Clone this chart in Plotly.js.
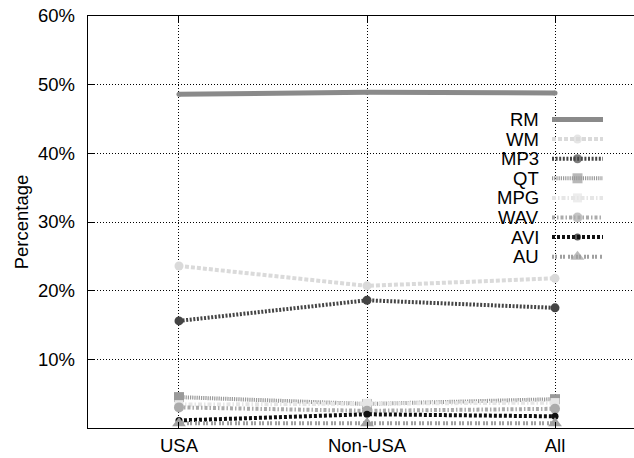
<!DOCTYPE html>
<html>
<head>
<meta charset="utf-8">
<script src="https://cdn.plot.ly/plotly-3.0.1.min.js"></script>
<style>
  html, body { margin: 0; padding: 0; overflow: hidden; background: #fff; }
  #chart { width: 660px; height: 458px; }
</style>
</head>
<body>
<div id="chart"></div>
<script>
// Regions on the x axis
const regions = ['USA', 'Non-USA', 'All'];

// Share of each media format per region (percent)
const rm  = [48.6, 48.9, 48.8];
const wm  = [23.6, 20.7, 21.8];
const mp3 = [15.6, 18.6, 17.5];
const qt  = [4.5, 3.5, 4.2];
const mpg = [3.4, 3.6, 3.7];
const wav = [3.0, 2.5, 2.8];
const avi = [1.1, 2.0, 1.7];
const au  = [0.7, 0.7, 0.7];

const formatNames = ['RM', 'WM', 'MP3', 'QT', 'MPG', 'WAV', 'AVI', 'AU'];
const yTicks = [10, 20, 30, 40, 50, 60];
const yTickText = yTicks.map(v => v + '%');

// Line and marker style per format
const styles = [
  { color: '#8a8a8a', width: 5, dash: 'solid',                 symbol: 'circle',        size: 5 },
  { color: '#dadada', width: 4, dash: '4px,2px',               symbol: 'circle',        size: 9 },
  { color: '#454545', width: 4, dash: '2px,1.6px',             symbol: 'circle',        size: 9 },
  { color: '#9a9a9a', width: 4, dash: '1.2px,1px',             symbol: 'square',        size: 10 },
  { color: '#e6e6e6', width: 4, dash: '4px,2px,1.5px,2px',     symbol: 'square',        size: 9 },
  { color: '#ababab', width: 4, dash: '3px,2px,1.5px,2px',     symbol: 'circle',        size: 10 },
  { color: '#111111', width: 4, dash: '3px,2px',               symbol: 'circle',        size: 7 },
  { color: '#a0a0a0', width: 4, dash: '2px,1px,2px,3px',       symbol: 'triangle-up',   size: 12 }
];

const series = [rm, wm, mp3, qt, mpg, wav, avi, au];

const traces = series.map((vals, i) => ({
  type: 'scatter',
  mode: 'lines+markers',
  name: formatNames[i],
  x: regions,
  y: vals,
  xaxis: 'x',
  yaxis: 'y',
  cliponaxis: false,
  line: { color: styles[i].color, width: styles[i].width, dash: styles[i].dash },
  marker: { color: styles[i].color, symbol: styles[i].symbol, size: styles[i].size, line: { width: 0 } },
  showlegend: false,
  hoverinfo: 'skip'
}));

// Key drawn on an overlay axis measured in pixels of the plot area
const plotLeft = 88, plotRight = 646, plotTop = 16, plotBottom = 428;
const keyTextRight = 541, keyLineStart = 552, keyLineEnd = 603;
const keyTop = 119.5, keyStep = 19.6;

const font = { family: 'Liberation Sans, Arial, sans-serif', size: 18.5, color: '#000' };

const annotations = [];
formatNames.forEach((name, i) => {
  const yRow = keyTop + i * keyStep;
  const mid = (keyLineStart + keyLineEnd) / 2;
  traces.push({
    type: 'scatter',
    mode: 'lines+markers',
    x: [keyLineStart, mid, keyLineEnd],
    y: [yRow, yRow, yRow],
    xaxis: 'x2',
    yaxis: 'y2',
    line: { color: styles[i].color, width: styles[i].width, dash: styles[i].dash },
    marker: { color: styles[i].color, symbol: styles[i].symbol, size: [0, styles[i].size, 0], line: { width: 0 } },
    showlegend: false,
    hoverinfo: 'skip'
  });
  annotations.push({
    xref: 'x2', yref: 'y2', x: keyTextRight, y: yRow,
    text: name, showarrow: false, xanchor: 'right', yanchor: 'middle',
    font: font
  });
});

const layout = {
  width: 660,
  height: 458,
  margin: { l: plotLeft, r: 660 - plotRight, t: plotTop, b: 458 - plotBottom },
  paper_bgcolor: '#fff',
  plot_bgcolor: '#fff',
  font: font,
  showlegend: false,
  xaxis: {
    type: 'category',
    range: [-0.484, 2.484],
    tickvals: regions,
    showgrid: true,
    gridcolor: '#000',
    gridwidth: 1,
    griddash: '1px,2px',
    showline: true,
    linecolor: '#000',
    linewidth: 1.3,
    mirror: 'ticks',
    ticks: 'inside',
    ticklen: 6,
    tickcolor: '#000',
    tickfont: font,
    zeroline: false,
    fixedrange: true
  },
  yaxis: {
    range: [0, 60],
    tickmode: 'array',
    tickvals: yTicks,
    ticktext: yTickText,
    showgrid: true,
    gridcolor: '#000',
    gridwidth: 1,
    griddash: '1px,2px',
    showline: true,
    linecolor: '#000',
    linewidth: 1.3,
    mirror: 'ticks',
    ticks: 'inside',
    ticklen: 6,
    tickcolor: '#000',
    tickfont: font,
    ticklabelstandoff: 8,
    zeroline: false,
    title: { text: 'Percentage', font: font, standoff: 4 },
    fixedrange: true
  },
  xaxis2: {
    overlaying: 'x', anchor: 'y2', range: [plotLeft, plotRight],
    visible: false, fixedrange: true
  },
  yaxis2: {
    overlaying: 'y', anchor: 'x2', range: [plotBottom, plotTop],
    visible: false, fixedrange: true
  },
  annotations: annotations
};

Plotly.newPlot('chart', traces, layout, { staticPlot: true, displayModeBar: false });
</script>
</body>
</html>
